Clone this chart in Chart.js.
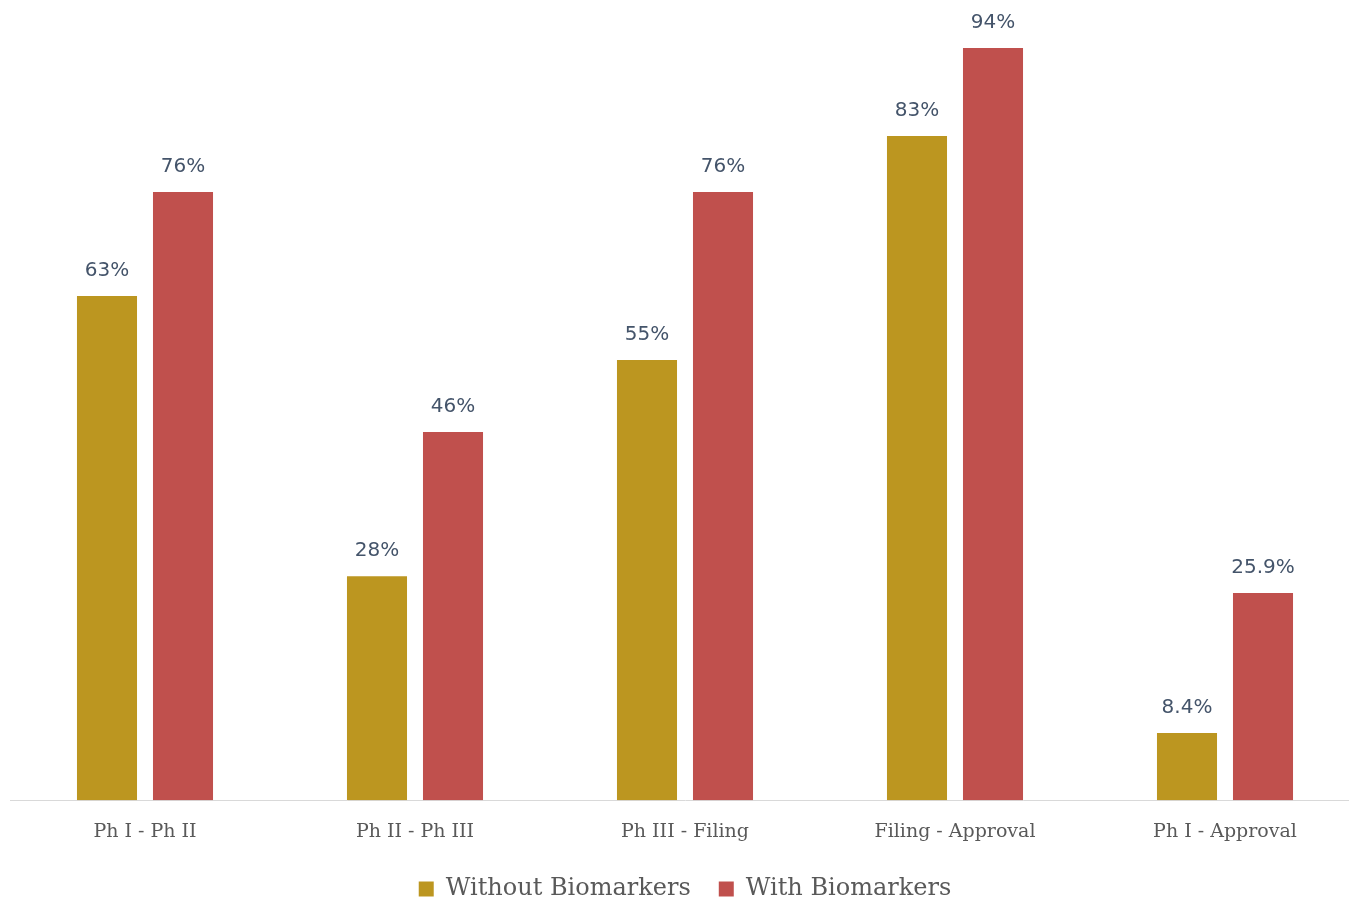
<!DOCTYPE html>
<html>
<head>
<meta charset="utf-8">
<script src="https://cdn.jsdelivr.net/npm/chart.js@4/dist/chart.umd.min.js"></script>
<style>
    html, body { margin: 0; padding: 0; background: #fff; overflow: hidden; }
    #wrap { position: relative; width: 1360px; height: 901px; }
</style>
</head>
<body>
<div id="wrap"><canvas id="chart"></canvas></div>
<script>
// Success rates by phase transition
const categories = ['Ph I - Ph II', 'Ph II - Ph III', 'Ph III - Filing', 'Filing - Approval', 'Ph I - Approval'];
const withoutBiomarkers = [63, 28, 55, 83, 8.4];
const withBiomarkers = [76, 46, 76, 94, 25.9];
const withoutLabels = ['63%', '28%', '55%', '83%', '8.4%'];
const withLabels = ['76%', '46%', '76%', '94%', '25.9%'];

// simple value label plugin (no datalabels plugin available offline)
const valueLabels = {
    id: 'valueLabels',
    afterDatasetsDraw(chart) {
        const ctx = chart.ctx;
        ctx.save();
        ctx.font = '20px "DejaVu Sans", Verdana, sans-serif';
        ctx.fillStyle = '#44546A';
        ctx.textAlign = 'center';
        ctx.textBaseline = 'bottom';
        chart.data.datasets.forEach((ds, i) => {
            const meta = chart.getDatasetMeta(i);
            meta.data.forEach((bar, j) => {
                ctx.fillText(ds.labels[j], bar.x, bar.y - 15);
            });
        });
        ctx.restore();
    }
};

new Chart(document.getElementById('chart'), {
    type: 'bar',
    data: {
        labels: categories,
        datasets: [
            {
                label: 'Without Biomarkers',
                data: withoutBiomarkers,
                labels: withoutLabels,
                backgroundColor: '#BC9620'
            },
            {
                label: 'With Biomarkers',
                data: withBiomarkers,
                labels: withLabels,
                backgroundColor: '#C0504D'
            }
        ]
    },
    options: {
        responsive: true,
        maintainAspectRatio: false,
        animation: false,
        categoryPercentage: 0.563,
        barPercentage: 0.79,
        layout: { padding: { left: 10, right: 0, top: 0, bottom: -10 } },
        scales: {
            x: {
                grid: { display: false },
                border: { color: '#D9D9D9', width: 1 },
                ticks: {
                    color: '#595959',
                    padding: 12,
                    font: { family: '"DejaVu Serif", serif', size: 19 }
                },
                afterFit: (scale) => { scale.height -= 6; }
            },
            y: {
                display: false,
                min: 0,
                max: 100
            }
        },
        plugins: {
            legend: {
                position: 'bottom',
                labels: {
                    color: '#595959',
                    boxWidth: 15,
                    boxHeight: 15,
                    padding: 28,
                    font: { family: '"DejaVu Serif", serif', size: 24 }
                }
            },
            tooltip: { enabled: false }
        }
    },
    plugins: [valueLabels]
});
</script>
</body>
</html>
